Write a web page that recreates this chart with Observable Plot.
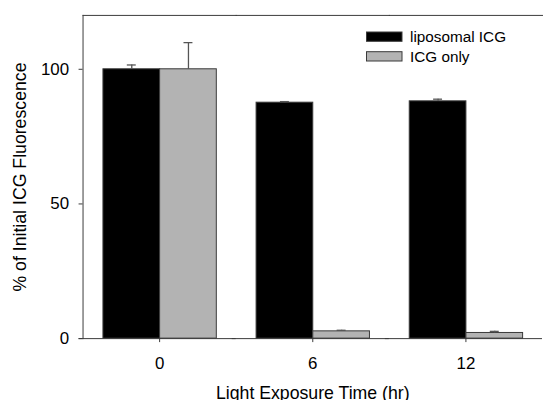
<!DOCTYPE html>
<html>
<head>
<meta charset="utf-8">
<script src="https://cdn.jsdelivr.net/npm/d3@7"></script>
<script src="https://cdn.jsdelivr.net/npm/@observablehq/plot@0.6"></script>
<style>
  html, body { margin: 0; padding: 0; background: #fff; overflow: hidden; }
  #wrap { position: relative; width: 543px; height: 402px; overflow: hidden; }
  #legend { position: absolute; left: 0; top: 0; pointer-events: none; }
</style>
</head>
<body>
<div id="wrap"></div>
<script>
// ---- data ----
const times = [0, 6, 12];
const series = ["liposomal ICG", "ICG only"];
const liposomal = [100, 87.6, 88.1];
const liposomalErr = [1.6, 0.4, 0.8];
const icgOnly = [100, 2.7, 2.1];
const icgOnlyErr = [9.9, 0.4, 0.6];
const yTicks = [0, 50, 100];
const seriesColors = ["#000000", "#b3b3b3"];
const xLabel = "Light Exposure Time (hr)";
const yLabel = "% of Initial ICG Fluorescence";

const rows = [];
times.forEach((t, i) => {
  rows.push({time: t, series: series[0], value: liposomal[i], err: liposomalErr[i]});
  rows.push({time: t, series: series[1], value: icgOnly[i], err: icgOnlyErr[i]});
});

const font = "'Liberation Sans', Arial, Helvetica, sans-serif";
const lineColor = "#3a3a3a";

const chart = Plot.plot({
  width: 546,
  height: 402,
  marginLeft: 82.5,
  marginRight: 0,
  marginTop: 15,
  marginBottom: 62,
  style: {fontFamily: font, fontSize: "17px", color: "#000", background: "#fff"},
  fx: {domain: times, padding: 0, label: null},
  x: {domain: series, paddingInner: 0, paddingOuter: 0.331, axis: null},
  y: {domain: [0, 120], label: null},
  color: {domain: series, range: seriesColors},
  marks: [
    Plot.barY(rows, {fx: "time", x: "series", y: "value", fill: "series", stroke: lineColor, strokeWidth: 1}),
    Plot.ruleX(rows, {fx: "time", x: "series", y1: "value", y2: d => d.value + d.err, stroke: "#555", strokeWidth: 1.3}),
    Plot.tickY(rows, {fx: "time", x: "series", y: d => d.value + d.err, insetLeft: 24, insetRight: 24, stroke: "#555", strokeWidth: 1.3}),
    Plot.frame({anchor: "top", stroke: lineColor}),
    Plot.frame({anchor: "left", facetAnchor: "left", stroke: lineColor}),
    Plot.ruleY([0], {insetLeft: -4, stroke: lineColor}),
    Plot.axisY({ticks: yTicks, tickSize: 4, tickPadding: 10, fontSize: 17, stroke: lineColor, label: null}),
    Plot.axisFx({anchor: "bottom", tickSize: 4, tickPadding: 14, fontSize: 17, stroke: lineColor, label: null}),
    Plot.text([xLabel], {facet: "super", frameAnchor: "bottom", text: d => d, dy: 54.6, lineAnchor: "middle", textAnchor: "middle", fontSize: 17.8}),
    Plot.text([yLabel], {facet: "super", frameAnchor: "left", text: d => d, rotate: -90, dx: -63, lineAnchor: "middle", textAnchor: "middle", fontSize: 17.8})
  ]
});

const wrap = document.getElementById("wrap");
wrap.appendChild(chart);

// legend (inside the plot area, top right)
const ns = "http://www.w3.org/2000/svg";
const leg = document.createElementNS(ns, "svg");
leg.setAttribute("id", "legend");
leg.setAttribute("width", 543);
leg.setAttribute("height", 402);
series.forEach((s, i) => {
  const g = document.createElementNS(ns, "g");
  g.setAttribute("transform", `translate(0, ${i * 19.7})`);
  const r = document.createElementNS(ns, "rect");
  r.setAttribute("x", 366.5);
  r.setAttribute("y", 32);
  r.setAttribute("width", 35.5);
  r.setAttribute("height", 9.3);
  r.setAttribute("fill", seriesColors[i]);
  r.setAttribute("stroke", lineColor);
  r.setAttribute("stroke-width", 1);
  g.appendChild(r);
  const t = document.createElementNS(ns, "text");
  t.setAttribute("x", 410);
  t.setAttribute("y", 42);
  t.setAttribute("font-family", font);
  t.setAttribute("font-size", 15.3);
  t.setAttribute("fill", "#000");
  t.textContent = s;
  g.appendChild(t);
  leg.appendChild(g);
});
wrap.appendChild(leg);
</script>
</body>
</html>
